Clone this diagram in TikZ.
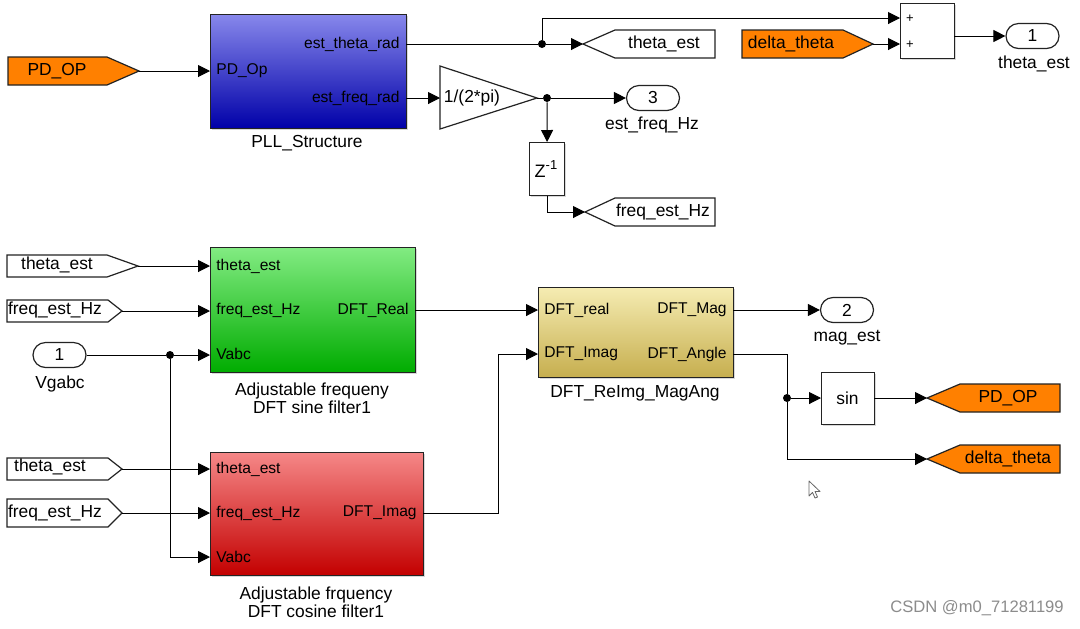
\documentclass[tikz,border=0pt]{standalone}
\usepackage{fontspec}
\setmainfont{Liberation Sans}
\usetikzlibrary{arrows.meta,shapes.misc,shadows}
\definecolor{pllT}{RGB}{135,135,235}
\definecolor{pllB}{RGB}{0,0,168}
\definecolor{grnT}{RGB}{130,235,130}
\definecolor{grnB}{RGB}{0,172,0}
\definecolor{redT}{RGB}{245,135,135}
\definecolor{redB}{RGB}{195,0,0}
\definecolor{ylwT}{RGB}{245,236,178}
\definecolor{ylwB}{RGB}{198,174,78}
\definecolor{sorange}{RGB}{255,128,0}
\definecolor{edge}{RGB}{35,35,35}
\newcommand\tagfs{\fontsize{8.7}{10}\selectfont}
\newcommand\portfs{\fontsize{7.8}{9}\selectfont}
\begin{document}
\begin{tikzpicture}[x=0.5pt,y=-0.5pt,
  blk/.style={draw=edge, line width=0.6pt, inner sep=0pt, anchor=north west,
    drop shadow={shadow xshift=0.8pt, shadow yshift=-0.8pt, opacity=0.3}},
  wire/.style={line width=0.5pt, draw=black},
  arr/.style={wire, -{Triangle[length=6pt,width=6pt]}},
  jdot/.style={circle, fill=black, inner sep=0pt, minimum size=4pt},
  tagshape/.style={draw=edge, line width=0.6pt},
  tagtxt/.style={font=\tagfs, inner sep=0pt},
  porttxt/.style={font=\portfs, inner sep=0pt},
  lbl/.style={font=\tagfs, inner sep=0pt, align=center},
  oport/.style={rounded rectangle, draw=edge, line width=0.6pt, fill=white,
    minimum width=26.5pt, minimum height=12.5pt, inner sep=0pt, font=\tagfs},
]
\fill[white] (0,0) rectangle (1080,628);
\useasboundingbox (0,0) rectangle (1080,628);

% ---------------- PLL block ----------------
\node[blk, top color=pllT, bottom color=pllB, minimum width=98pt, minimum height=57pt] (pll) at (210,14) {};
\coordinate (pllIn) at (210,71);
\coordinate (pllTh) at (406,44);
\coordinate (pllFr) at (406,98);
\node[porttxt, anchor=west] (pllp1) at (216,71) {PD\_Op};
\node[porttxt, anchor=east] (pllp2) at (400,44) {est\_theta\_rad};
\node[porttxt, anchor=east] (pllp3) at (400,98) {est\_freq\_rad};
\node[lbl] (plllbl) at (307,143) {PLL\_Structure};

% PD_OP from tag (left)
\draw[tagshape, fill=sorange] (8,57) -- (107,57) -- (139,71) -- (107,85) -- (8,85) -- cycle;
\coordinate (pdopA) at (139,71);
\node[tagtxt] (pdopAt) at (57,71) {PD\_OP};
\draw[arr] (pdopA) -- (pllIn);

% theta_est goto (top)
\draw[tagshape, fill=white] (583,44) -- (615,30) -- (715,30) -- (715,58) -- (615,58) -- cycle;
\coordinate (thGo) at (583,44);
\node[tagtxt] (thGot) at (664,44) {theta\_est};
\node[jdot] (j1) at (542,44) {};
\draw[wire] (pllTh) -- (j1);
\draw[arr] (j1) -- (thGo);

% Sum block
\node[blk, fill=white, minimum width=27pt, minimum height=27.5pt] (sum) at (900,3) {};
\coordinate (sumIn1) at (900,18);
\coordinate (sumIn2) at (900,44);
\coordinate (sumOut) at (954,36);
\node[porttxt, font=\fontsize{6.5}{7}\selectfont] (sp1) at (910,19) {+};
\node[porttxt, font=\fontsize{6.5}{7}\selectfont] (sp2) at (910,45) {+};
\draw[arr] (j1) |- (sumIn1);

% delta_theta from tag
\draw[tagshape, fill=sorange] (742,30) -- (843,30) -- (873,44) -- (843,58) -- (742,58) -- cycle;
\coordinate (dtA) at (873,44);
\node[tagtxt] (dtAt) at (791,44) {delta\_theta};
\draw[arr] (dtA) -- (sumIn2);

% outport 1
\node[oport] (out1) at (1032.5,36) {1};
\node[lbl] (out1l) at (1034,64) {theta\_est};
\draw[arr] (sumOut) -- (out1.west);

% gain
\draw[tagshape, fill=white] (440,66) -- (537,98) -- (440,129) -- cycle;
\coordinate (gIn) at (440,98);
\coordinate (gOut) at (537,98);
\node[tagtxt] (gtxt) at (472,98) {1/(2*pi)};
\draw[arr] (pllFr) -- (gIn);
\node[jdot] (j2) at (547,98) {};
\draw[wire] (gOut) -- (j2);

% outport 3
\node[oport] (out3) at (653,98) {3};
\node[lbl] (out3l) at (652,125) {est\_freq\_Hz};
\draw[arr] (j2) -- (out3.west);

% unit delay
\node[blk, fill=white, minimum width=17.5pt, minimum height=26.5pt] (zd) at (529,142) {};
\node[inner sep=0pt, font=\fontsize{9}{10}\selectfont] (zdt) at (546,169) {Z\raisebox{0.75ex}{\fontsize{6.5}{7}\selectfont -1}};
\draw[arr] (j2) -- (zd.north);
\draw[tagshape, fill=white] (585,212) -- (615,198) -- (715,198) -- (715,226) -- (615,226) -- cycle;
\coordinate (fqGo) at (585,212);
\node[tagtxt] (fqGot) at (663,212) {freq\_est\_Hz};
\draw[arr] (zd.south) |- (fqGo);

% ---------------- Sine filter ----------------
\node[blk, top color=grnT, bottom color=grnB, minimum width=102.5pt, minimum height=62.5pt] (sine) at (210,247) {};
\node[porttxt, anchor=west] (sn1) at (216,266) {theta\_est};
\node[porttxt, anchor=west] (sn2) at (216,310) {freq\_est\_Hz};
\node[porttxt, anchor=west] (sn3) at (216,354) {Vabc};
\node[porttxt, anchor=east] (sn4) at (409,310) {DFT\_Real};
\node[lbl] (snl) at (312,398) {Adjustable frequeny\\[-1.2pt]DFT sine filter1};
\coordinate (snIn1) at (210,266);
\coordinate (snIn2) at (210,311);
\coordinate (snIn3) at (210,355);
\coordinate (snOut) at (415,310);

\draw[tagshape, fill=white] (7,255) -- (107,255) -- (138,266) -- (107,277) -- (7,277) -- cycle;
\coordinate (tgA) at (138,266);
\node[tagtxt] (tgAt) at (57,265) {theta\_est};
\draw[arr] (tgA) -- (snIn1);
\draw[tagshape, fill=white] (7,300) -- (108,300) -- (122,311) -- (108,322) -- (7,322) -- cycle;
\coordinate (tgB) at (122,311);
\node[tagtxt] (tgBt) at (55,310) {freq\_est\_Hz};
\draw[arr] (tgB) -- (snIn2);

\node[oport] (in1) at (59.5,355) {1};
\node[lbl] (in1l) at (60,384) {Vgabc};
\node[jdot] (j3) at (170,355) {};
\draw[wire] (in1.east) -- (j3);
\draw[arr] (j3) -- (snIn3);

% ---------------- Cosine filter ----------------
\node[blk, top color=redT, bottom color=redB, minimum width=106.5pt, minimum height=61.5pt] (cosf) at (210,452) {};
\node[porttxt, anchor=west] (cs1) at (216,469) {theta\_est};
\node[porttxt, anchor=west] (cs2) at (216,513) {freq\_est\_Hz};
\node[porttxt, anchor=west] (cs3) at (216,557) {Vabc};
\node[porttxt, anchor=east] (cs4) at (417,513) {DFT\_Imag};
\node[lbl] (csl) at (316,602) {Adjustable frquency\\[-1.2pt]DFT cosine filter1};
\coordinate (csIn1) at (210,469);
\coordinate (csIn2) at (210,513);
\coordinate (csIn3) at (210,557);
\coordinate (csOut) at (423,513);

\draw[tagshape, fill=white] (7,458) -- (108,458) -- (122,469) -- (108,480) -- (7,480) -- cycle;
\coordinate (tgC) at (122,469);
\node[tagtxt] (tgCt) at (50,467) {theta\_est};
\draw[arr] (tgC) -- (csIn1);
\draw[tagshape, fill=white] (7,499) -- (108,499) -- (122,513) -- (108,527) -- (7,527) -- cycle;
\coordinate (tgD) at (122,513);
\node[tagtxt] (tgDt) at (55,513) {freq\_est\_Hz};
\draw[arr] (tgD) -- (csIn2);
\draw[arr] (j3) |- (csIn3);

% ---------------- ReIm -> MagAng ----------------
\node[blk, top color=ylwT, bottom color=ylwB, minimum width=97.5pt, minimum height=45pt] (ri) at (538,287) {};
\node[porttxt, anchor=west] (ri1) at (544,310) {DFT\_real};
\node[porttxt, anchor=west] (ri2) at (544,354) {DFT\_Imag};
\node[porttxt, anchor=east] (ri3) at (727,310) {DFT\_Mag};
\node[porttxt, anchor=east] (ri4) at (727,354) {DFT\_Angle};
\node[lbl] (ril) at (635,393) {DFT\_ReImg\_MagAng};
\coordinate (riIn1) at (538,310);
\coordinate (riIn2) at (538,354);
\coordinate (riOut1) at (733,310);
\coordinate (riOut2) at (733,354);
\coordinate (bend1) at (498,354);

\draw[arr] (snOut) -- (riIn1);
\draw[wire] (csOut) -| (bend1);
\draw[arr] (bend1) -- (riIn2);

\node[oport] (out2) at (847,310) {2};
\node[lbl] (out2l) at (847,338) {mag\_est};
\draw[arr] (riOut1) -- (out2.west);

% sin block
\node[blk, fill=white, minimum width=26.5pt, minimum height=26pt] (sinb) at (821,372) {};
\node[tagtxt] (sint) at (847.5,398) {sin};
\coordinate (sinIn) at (821,398);
\coordinate (sinOut) at (874,398);
\node[jdot] (j4) at (787,398) {};
\draw[wire] (riOut2) -| (j4);
\draw[arr] (j4) -- (sinIn);

\draw[tagshape, fill=sorange] (927,398) -- (960,384) -- (1060,384) -- (1060,412) -- (960,412) -- cycle;
\coordinate (pdGo) at (927,398);
\node[tagtxt] (pdGot) at (1008,398) {PD\_OP};
\draw[arr] (sinOut) -- (pdGo);

\draw[tagshape, fill=sorange] (927,459) -- (960,445) -- (1060,445) -- (1060,473) -- (960,473) -- cycle;
\coordinate (dtGo) at (927,459);
\node[tagtxt] (dtGot) at (1008,459) {delta\_theta};
\draw[arr] (j4) |- (dtGo);

% mouse cursor
\draw[draw=black!60, fill=white, line width=0.4pt, line join=round]
  (809,481) -- (809,496) -- (812.5,492.5) -- (815,498) -- (817.5,497) -- (815,491.5) -- (820,491.5) -- cycle;

% watermark
\node[inner sep=0pt, font=\fontsize{8.3}{9}\selectfont, text=black!45] (wm) at (977,608) {CSDN @m0\_71281199};
\end{tikzpicture}
\end{document}
